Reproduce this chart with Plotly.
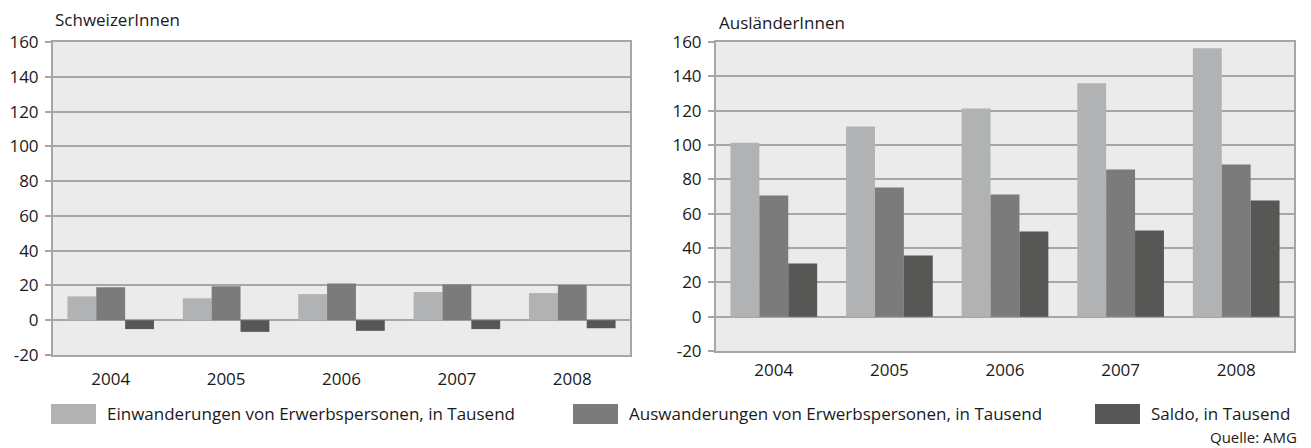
import plotly.graph_objects as go

# data (thousands)
years = ["2004", "2005", "2006", "2007", "2008"]

ch_ein = [13.7, 12.6, 15.0, 16.2, 15.6]
ch_aus = [18.9, 19.6, 21.1, 20.6, 20.2]
ch_saldo = [-5.1, -6.7, -6.1, -5.1, -4.6]

ausl_ein = [101.3, 110.8, 121.3, 135.9, 156.4]
ausl_aus = [70.6, 75.3, 71.2, 85.8, 88.7]
ausl_saldo = [30.9, 35.6, 49.6, 50.2, 67.7]

series_names = [
    "Einwanderungen von Erwerbspersonen, in Tausend",
    "Auswanderungen von Erwerbspersonen, in Tausend",
    "Saldo, in Tausend",
]
panel_titles = ["SchweizerInnen", "AusländerInnen"]
y_ticks = [-20, 0, 20, 40, 60, 80, 100, 120, 140, 160]
y_ticktext = ["-20", "0", "20", "40", "60", "80", "100", "120", "140", "160"]
source = "Quelle: AMG"

colors = ["#b1b2b3", "#7b7b7b", "#575756"]
W, H = 1311, 448
FONT = "'Open Sans', Lato, sans-serif"
GRID = "#a6a6a6"
TXT = "#1a1a1a"


def px(x):
    return x / W


def py(y):
    return 1 - y / H


fig = go.Figure()

panels = [
    (ch_ein, ch_aus, ch_saldo, "x", "y"),
    (ausl_ein, ausl_aus, ausl_saldo, "x2", "y2"),
]
for ein, aus, saldo, xa, ya in panels:
    for name, vals, col in zip(series_names, [ein, aus, saldo], colors):
        fig.add_trace(
            go.Bar(
                name=name,
                x=years,
                y=vals,
                marker_color=col,
                marker_line_width=0,
                xaxis=xa,
                yaxis=ya,
                showlegend=False,
            )
        )

axis_common = dict(
    showline=True,
    linecolor=GRID,
    linewidth=2,
    mirror=True,
    automargin=False,
    tickfont=dict(family=FONT, size=17, color=TXT),
)
yaxis_common = dict(
    range=[-20, 160],
    tickvals=y_ticks,
    ticktext=y_ticktext,
    showgrid=True,
    gridcolor=GRID,
    gridwidth=2,
    zeroline=False,
    ticks="outside",
    ticklen=6,
    tickwidth=2,
    tickcolor=GRID,
    ticklabelstandoff=3,
)

fig.update_layout(
    template="none",
    width=W,
    height=H,
    margin=dict(l=0, r=0, t=0, b=0, autoexpand=False),
    paper_bgcolor="white",
    plot_bgcolor="#ebebeb",
    barmode="group",
    bargap=0.25,
    bargroupgap=0,
    showlegend=False,
    font=dict(family=FONT, color=TXT),
    xaxis=dict(
        domain=[px(53), px(630)],
        anchor="y",
        showgrid=False,
        ticks="",
        ticklabelstandoff=8,
        **axis_common,
    ),
    yaxis=dict(domain=[py(355), py(42)], anchor="x", **yaxis_common, **axis_common),
    xaxis2=dict(
        domain=[px(716), px(1294)],
        anchor="y2",
        showgrid=False,
        ticks="",
        ticklabelstandoff=3,
        **axis_common,
    ),
    yaxis2=dict(domain=[py(351), py(42)], anchor="x2", **yaxis_common, **axis_common),
)

# panel titles
for title, x0, y0 in [(panel_titles[0], 53, 20), (panel_titles[1], 717, 23)]:
    fig.add_annotation(
        text=title, x=px(x0), y=py(y0), xref="paper", yref="paper",
        xanchor="left", yanchor="middle", showarrow=False,
        font=dict(family=FONT, size=17, color=TXT),
    )

# legend drawn by hand: wide swatches like the original
legend_x = [51, 573, 1095]
for name, col, x0 in zip(series_names, colors, legend_x):
    fig.add_shape(
        type="rect", xref="paper", yref="paper",
        x0=px(x0), x1=px(x0 + 45), y0=py(424), y1=py(404),
        fillcolor=col, line_width=0,
    )
    fig.add_annotation(
        text=name, x=px(x0 + 54), y=py(413), xref="paper", yref="paper",
        xanchor="left", yanchor="middle", showarrow=False,
        font=dict(family=FONT, size=17, color=TXT),
    )

fig.add_annotation(
    text=source, x=px(1299), y=py(437), xref="paper", yref="paper",
    xanchor="right", yanchor="middle", showarrow=False,
    font=dict(family=FONT, size=15, color=TXT),
)

fig.write_html(
    "out.html",
    config={"displayModeBar": False},
    post_script="document.body.style.margin='0';",
)
